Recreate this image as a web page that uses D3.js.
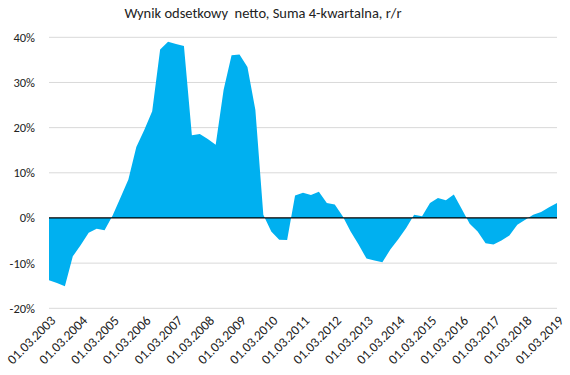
<!DOCTYPE html>
<html><head><meta charset="utf-8">
<script src="https://cdn.jsdelivr.net/npm/d3@7"></script>
<style>body{margin:0;background:#fff}text{font-family:Carlito,Calibri,Lato,"Open Sans","Liberation Sans",sans-serif;white-space:pre}</style>
</head><body><svg id="c" width="570" height="375"></svg>
<script>
const title = "Wynik odsetkowy  netto, Suma 4-kwartalna, r/r";
const years = d3.range(2003, 2020);
const quarters = ["01.03","01.06","01.09","01.12"];
const dates = [];
years.forEach(y => quarters.forEach(q => { if (y < 2019 || q === "01.03") dates.push(q + "." + y); }));
const values = [
 -13.8,-14.4,-15.1,-8.5,-6.0,-3.3,-2.4,-2.7,
 0.5,4.5,8.5,15.7,19.5,23.6,37.3,39.0,
 38.5,38.1,18.3,18.6,17.5,16.2,28.4,36.0,
 36.2,33.4,23.9,0.7,-3.0,-4.8,-4.9,5.0,
 5.6,5.1,5.8,3.3,3.0,0.4,-3.0,-5.9,
 -9.0,-9.4,-9.8,-7.0,-4.7,-2.2,0.7,0.4,
 3.3,4.4,3.9,5.2,2.0,-1.3,-3.0,-5.6,
 -5.9,-5.0,-3.9,-1.5,-0.4,0.7,1.3,2.4,
 3.3
];
const yTicks = [-20,-10,0,10,20,30,40];
const tickLabels = dates.filter(d => d.startsWith("01.03"));

const svg = d3.select("#c");
const x = d3.scalePoint().domain(dates).range([49, 557]);
const y = d3.scaleLinear().domain([-20, 40]).range([308.3, 37.3]);

svg.append("text").attr("x", 263).attr("y", 18).attr("text-anchor", "middle")
  .attr("font-size", 14.5).attr("fill", "#222").text(title);

svg.append("g").selectAll("line").data(yTicks.filter(t => t !== 0)).join("line")
  .attr("x1", 49).attr("x2", 557).attr("y1", d => y(d)).attr("y2", d => y(d))
  .attr("stroke", "#d9d9d9").attr("stroke-width", 1);

svg.append("g").selectAll("text").data(yTicks).join("text")
  .attr("x", 35).attr("y", d => y(d)).attr("dy", "0.35em").attr("text-anchor", "end")
  .attr("font-size", 12.5).attr("fill", "#222").text(d => d + "%");

const area = d3.area().x(d => x(d.date)).y0(y(0)).y1(d => y(d.v));
svg.append("path").datum(dates.map((d, i) => ({date: d, v: values[i]})))
  .attr("d", area).attr("fill", "#00B0F0");

svg.append("line").attr("x1", 49).attr("x2", 557).attr("y1", y(0)).attr("y2", y(0))
  .attr("stroke", "#000").attr("stroke-width", 1.3);

svg.append("g").selectAll("text").data(tickLabels).join("text")
  .attr("transform", d => `translate(${x(d) + 4},${318}) rotate(-45)`)
  .attr("text-anchor", "end").attr("dy", "0.35em")
  .attr("font-size", 13.5).attr("fill", "#222").text(d => d);
</script></body></html>
